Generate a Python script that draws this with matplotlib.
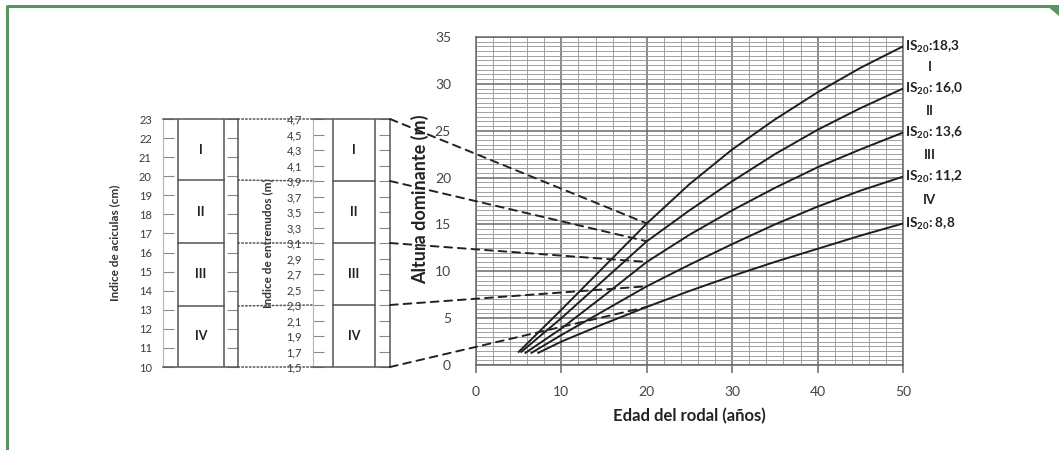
import matplotlib
matplotlib.use("Agg")
import matplotlib.pyplot as plt
from matplotlib.patches import ConnectionPatch, Polygon
from matplotlib.ticker import MultipleLocator

plt.rcParams["font.family"] = ["Lato", "DejaVu Sans"]
plt.rcParams["mathtext.fontset"] = "custom"
plt.rcParams["mathtext.rm"] = "Lato:bold"
plt.rcParams["mathtext.bf"] = "Lato:bold"

# site index curves: height (m) against stand age (years)
edad = [10, 15, 20, 25, 30, 35, 40, 45, 50]
edad_inicio = [5.0, 5.3, 5.8, 6.5, 7.3]
altura_inicio = [1.4, 1.4, 1.3, 1.3, 1.3]
altura_I = [5.9, 10.5, 15.1, 19.3, 23.0, 26.2, 29.1, 31.7, 34.0]
altura_II = [5.0, 9.1, 13.2, 16.5, 19.6, 22.5, 25.1, 27.4, 29.5]
altura_III = [3.9, 7.4, 11.0, 13.9, 16.5, 18.9, 21.1, 23.0, 24.8]
altura_IV = [3.2, 5.8, 8.4, 10.7, 12.9, 15.0, 16.9, 18.6, 20.1]
altura_V = [2.5, 4.4, 6.2, 7.9, 9.5, 11.0, 12.4, 13.8, 15.1]
curvas = [altura_I, altura_II, altura_III, altura_IV, altura_V]
etiquetas_is = ["IS$_{20}$:18,3", "IS$_{20}$: 16,0", "IS$_{20}$: 13,6",
                "IS$_{20}$: 11,2", "IS$_{20}$: 8,8"]
edad_ref = 20

# quality classes on the needle and internode scales
clases = ["I", "II", "III", "IV"]
limites_aciculas = [23, 19.8, 16.5, 13.2, 10]
limites_entrenudos = [4.7, 3.9, 3.1, 2.3, 1.5]
ticks_aciculas = list(range(10, 24))
ticks_entrenudos = [1.5, 1.7, 1.9, 2.1, 2.3, 2.5, 2.7, 2.9, 3.1, 3.3,
                    3.5, 3.7, 3.9, 4.1, 4.3, 4.5, 4.7]

W, H = 1059, 450
fig = plt.figure(figsize=(W / 100, H / 100), dpi=100)


def px_axes(x0, y0, x1, y1):
    return fig.add_axes([x0 / W, 1 - y1 / H, (x1 - x0) / W, (y1 - y0) / H])


# background overlay in pixel units (frame)
bg = fig.add_axes([0, 0, 1, 1], zorder=-5)
bg.set_xlim(0, W)
bg.set_ylim(H, 0)
bg.axis("off")
verde = "#5b9463"
bg.plot([7, 7, 1050], [H, 6, 6], color=verde, lw=2.2, solid_capstyle="butt")
bg.add_patch(Polygon([[1046, 4.5], [1059, 4.5], [1059, 16]], closed=True,
                     color=verde, lw=0))

# ---- main chart ----
ax = px_axes(476, 37, 903, 365)
ax.set_xlim(0, 50)
ax.set_ylim(0, 35)
ax.xaxis.set_major_locator(MultipleLocator(10))
ax.xaxis.set_minor_locator(MultipleLocator(2))
ax.yaxis.set_major_locator(MultipleLocator(5))
ax.yaxis.set_minor_locator(MultipleLocator(0.5))
ax.grid(which="minor", color="#9a9a9a", lw=0.65)
ax.grid(which="major", color="#6a6a6a", lw=1.1)
ax.set_axisbelow(True)
for s in ax.spines.values():
    s.set_color("#6a6a6a")
    s.set_linewidth(1.1)
ax.tick_params(which="minor", length=0)
ax.tick_params(axis="x", which="major", length=6, width=1.1, color="#6a6a6a",
               labelsize=10, labelcolor="#444444", pad=9)
ax.tick_params(axis="y", which="major", length=0, labelsize=10,
               labelcolor="#444444", pad=18)

for xs0, ys0, alt in zip(edad_inicio, altura_inicio, curvas):
    ax.plot([xs0] + edad, [ys0] + alt, color="#1e1e1e", lw=1.4, zorder=3)

ax.set_xlabel("Edad del rodal (años)", fontsize=12, fontweight="bold",
              color="#222222", labelpad=7)
ax.set_ylabel("Altura dominante (m)", fontsize=13, fontweight="bold",
              color="#222222")
ax.yaxis.set_label_coords(-0.11, 0.505)

finales = [alt[-1] for alt in curvas]
for fin, txt in zip(finales, etiquetas_is):
    ax.annotate(txt, (50, fin), xytext=(1.5, 0), textcoords="offset points",
                ha="left", va="center", fontsize=9.8, fontweight="bold",
                color="#222222", annotation_clip=False)
for a, b, c in zip(finales[:-1], finales[1:], clases):
    ax.annotate(c, (50, (a + b) / 2), xytext=(19, 0), textcoords="offset points",
                ha="center", va="center", fontsize=9.5, fontweight="bold",
                color="#222222", annotation_clip=False)


# ---- class scales ----
def escala(x0, x1, lim, ticks, limites, caja, etiqueta, fmt, ylab_x):
    p = px_axes(x0, 119, x1, 367)
    p.set_xlim(0, x1 - x0)
    p.set_ylim(*lim)
    p.set_xticks([])
    p.set_yticks(ticks)
    p.set_yticklabels([fmt(t) for t in ticks])
    p.tick_params(axis="y", direction="in", length=8, width=0.8,
                  color="#8a8a8a", labelsize=8, labelcolor="#3a3a3a",
                  pad=8, right=True)
    p.spines["left"].set_color("#b5b5b5")
    for k in ("right", "top", "bottom"):
        p.spines[k].set_color("#555555")
        p.spines[k].set_linewidth(1.1)
    for xc in caja:
        p.axvline(xc, color="#555555", lw=1.1)
    for v in limites[1:-1]:
        p.plot(caja, [v, v], color="#555555", lw=1.1)
    for a, b, c in zip(limites[:-1], limites[1:], clases):
        p.text(sum(caja) / 2, (a + b) / 2, c, ha="center", va="center",
               fontsize=9, fontweight="bold", color="#222222")
    p.set_ylabel(etiqueta, fontsize=8.5, fontweight="bold", color="#333333")
    p.yaxis.set_label_coords(ylab_x, 0.5)
    p.patch.set_alpha(0)
    return p


p1 = escala(163, 238, (10, 23), ticks_aciculas, limites_aciculas, [15, 61],
            "Indice de aciculas (cm)", lambda t: f"{t}", -0.57)
p2 = escala(313, 390, (1.5, 4.7), ticks_entrenudos, limites_entrenudos, [20, 62],
            "Indice de entrenudos (m)", lambda t: f"{t:.1f}".replace(".", ","),
            -0.52)

# dotted links between the two scales
for va, ve in zip(limites_aciculas, limites_entrenudos):
    fig.add_artist(ConnectionPatch(
        xyA=(1, va), coordsA=p1.get_yaxis_transform(),
        xyB=(0, ve), coordsB=p2.get_yaxis_transform(),
        color="#555555", lw=1.1, linestyle=(0, (1, 1.5))))

# dashed links from the internode scale to each curve at the reference age
i_ref = edad.index(edad_ref)
for ve, alt in zip(limites_entrenudos, curvas):
    fig.add_artist(ConnectionPatch(
        xyA=(1, ve), coordsA=p2.get_yaxis_transform(),
        xyB=(edad_ref, alt[i_ref]), coordsB=ax.transData,
        color="#222222", lw=1.4, linestyle=(0, (4, 3))))

fig.savefig("out.png", dpi=100)
